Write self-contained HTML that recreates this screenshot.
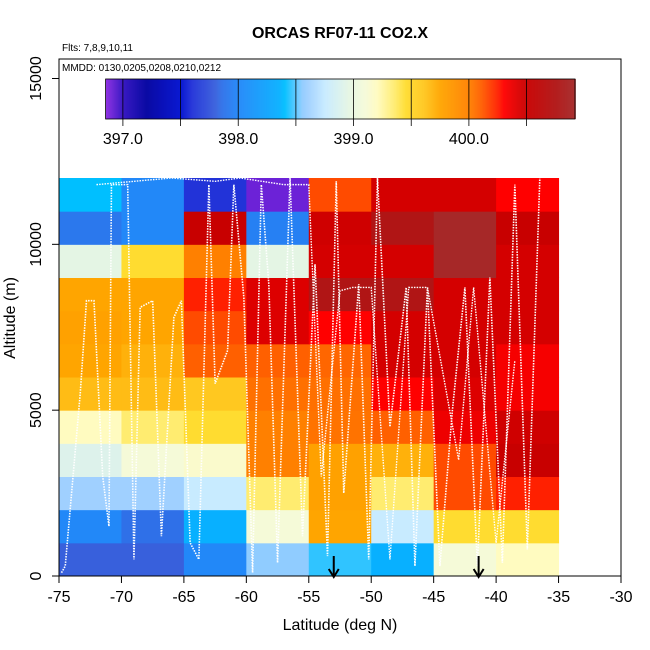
<!DOCTYPE html>
<html><head><meta charset="utf-8"><style>
html,body{margin:0;padding:0;background:#fff}
svg{display:block;font-family:"Liberation Sans",sans-serif}
</style></head><body>
<svg id="c" width="650" height="650" viewBox="0 0 650 650">
<text x="340" y="38" text-anchor="middle" font-size="16" font-weight="bold">ORCAS RF07-11 CO2.X</text>
<text x="62" y="51" font-size="10">Flts: 7,8,9,10,11</text>
<g id="cells"></g>
<g id="tracks"></g>
<rect x="59" y="59" width="562" height="517" fill="none" stroke="#000" stroke-width="1"/>
<text x="62" y="71" font-size="10">MMDD: 0130,0205,0208,0210,0212</text>
<g id="cbar"></g>
<g id="axes"></g>
<text x="340" y="630" text-anchor="middle" font-size="16">Latitude (deg N)</text>
<text x="15" y="318" text-anchor="middle" font-size="16" transform="rotate(-90 15 318)">Altitude (m)</text>
</svg>
<script>
const latEdges=[-75,-70,-65,-60,-55,-50,-45,-40,-35];
const altEdges=[0,1000,2000,3000,4000,5000,6000,7000,8000,9000,10000,11000,12000];
// rows from bottom (0-1000 m) to top (11000-12000 m), columns west->east
const co2=[
[397.8,397.8,398.0,398.55,398.45,398.35,399.1,399.2],
[398.0,397.85,398.35,399.1,399.75,398.75,399.45,399.45],
[398.6,398.6,398.75,399.35,399.78,399.35,400.15,400.25],
[398.9,399.1,399.15,400.0,399.78,399.7,400.15,400.5],
[399.2,399.35,399.45,400.0,400.04,400.1,400.36,400.47],
[399.65,399.65,399.6,400.05,400.05,400.3,400.42,400.33],
[399.75,399.7,400.1,400.1,400.08,400.45,400.45,400.33],
[399.78,399.75,400.15,400.42,400.3,400.45,400.45,400.45],
[399.75,399.75,400.25,400.42,400.75,400.75,400.45,400.45],
[398.95,399.45,400.0,398.95,400.45,400.45,400.9,400.45],
[397.9,398.0,400.5,397.95,400.47,400.75,400.9,400.5],
[398.4,398.0,397.6,396.9,400.15,400.45,400.45,400.3]];
const cbTicks=[397.0,398.0,399.0,400.0];
const xTicks=[-75,-70,-65,-60,-55,-50,-45,-40,-35,-30];
const yTicks=[0,5000,10000,15000];
const arrowLats=[-53.0,-41.4];
const trackLat=[-74.8,-74.5,-73.3,-72.8,-72.2,-71.5,-71.0,-70.8,-69.5,-69.0,-68.5,-67.5,-66.8,-65.8,-65.2,-64.5,-63.8,-63.0,-62.5,-61.5,-61.0,-60.2,-59.5,-58.8,-58.2,-57.5,-56.5,-55.5,-54.5,-53.5,-52.8,-52.2,-51.0,-50.2,-49.5,-48.5,-47.2,-46.5,-45.5,-44.5,-43.5,-42.5,-41.5,-40.5,-39.5,-38.5,-37.5,-36.5];
const trackAlt=[100,300,5500,8300,8300,3000,1500,11800,11800,500,8100,8300,1200,7800,8300,1000,500,11800,5800,6800,11800,8400,100,11800,8800,400,12000,1200,9400,600,11900,2500,8800,500,12000,4500,8700,300,8700,300,5000,8700,300,9000,400,11800,800,12000];
const track2Lat=[-72.0,-66.0,-62.5,-60.5,-57.0,-55.0,-54.0,-52.5,-51.5,-50.0,-48.5,-47.0,-45.5,-43.0,-41.8,-40.0,-38.5];
const track2Alt=[11800,12000,11900,12000,11800,11800,3000,8600,8700,8700,500,8700,8700,3500,8700,1000,6500];
const stops=[[396.85,"#8A2BE2"],[397.0,"#3010C0"],[397.2,"#0000A0"],[397.5,"#0010D0"],[397.6,"#2233D8"],[397.8,"#3860DC"],[397.85,"#2F70E8"],[398.0,"#2288F8"],[398.35,"#08B0FF"],[398.4,"#00BFFF"],[398.45,"#30C4FF"],[398.55,"#90CCFF"],[398.6,"#A0D0FF"],[398.75,"#C8EBFF"],[398.95,"#E4F5E4"],[399.1,"#F5FAD8"],[399.2,"#FFFBC0"],[399.35,"#FFEC70"],[399.45,"#FFDC30"],[399.6,"#FFC820"],[399.75,"#FFA500"],[400.0,"#FF8000"],[400.1,"#FF6000"],[400.25,"#FF2000"],[400.3,"#FF0000"],[400.45,"#D40000"],[400.5,"#C80000"],[400.75,"#B01515"],[400.92,"#A52A2A"]];
function hx(c){return [1,3,5].map(i=>parseInt(c.substr(i,2),16));}
function col(v){
 if(v<=stops[0][0])return stops[0][1];
 for(let i=1;i<stops.length;i++){if(v<=stops[i][0]){const a=stops[i-1],b=stops[i];const t=(v-a[0])/(b[0]-a[0]);const A=hx(a[1]),B=hx(b[1]);return "rgb("+A.map((x,k)=>Math.round(x+(B[k]-x)*t)).join(",")+")";}}
 return stops[stops.length-1][1];}
const X=v=>59+(v+75)*(562/45);
const Y=v=>576-v*(398/12000);
const CB=v=>105.6+(v-396.85)*(469.4/4.07);
const NS="http://www.w3.org/2000/svg";
function mk(t,p,a){const e=document.createElementNS(NS,t);for(const k in a)e.setAttribute(k,a[k]);p.appendChild(e);return e;}
const cells=document.getElementById('cells');
co2.forEach((row,r)=>row.forEach((v,c)=>{
 const e=mk('rect',cells,{x:X(latEdges[c]),y:Y(altEdges[r+1]),width:X(latEdges[c+1])-X(latEdges[c])+0.5,height:Y(altEdges[r])-Y(altEdges[r+1])+0.5,fill:col(v)});
 
 
}));
const tr=document.getElementById('tracks');
const pl=mk('polyline',tr,{points:trackLat.map((l,i)=>X(l)+","+Y(trackAlt[i])).join(" "),fill:"none",stroke:"#fff","stroke-width":1.6,"stroke-dasharray":"1.5 1.2"});


const pl2=mk('polyline',tr,{points:track2Lat.map((l,i)=>X(l)+","+Y(track2Alt[i])).join(" "),fill:"none",stroke:"#fff","stroke-width":1.4,"stroke-dasharray":"1.5 1.2"});


arrowLats.forEach(l=>{
 const g=mk('g',tr,{});
 
 
 mk('line',g,{x1:X(l),y1:556,x2:X(l),y2:576,stroke:"#000","stroke-width":2});
 mk('path',g,{d:`M${X(l)-5},569 L${X(l)},577 L${X(l)+5},569`,fill:"none",stroke:"#000","stroke-width":2});
});
const cb=document.getElementById('cbar');
for(let p=105.6;p<575;p+=1){const v=396.85+(p-105.6)*4.07/469.4;mk('rect',cb,{x:p,y:79,width:1.2,height:40,fill:col(v)});}
mk('rect',cb,{x:105.6,y:79,width:469.4,height:40,fill:"none",stroke:"#000","stroke-width":0.8});
for(let v=397.0;v<=400.6;v+=0.5){mk('line',cb,{x1:CB(v),y1:79,x2:CB(v),y2:126,stroke:"#000","stroke-width":0.8});}
cbTicks.forEach(v=>{const t=mk('text',cb,{x:CB(v),y:144,"text-anchor":"middle","font-size":16});t.textContent=v.toFixed(1);
 
 });
const ax=document.getElementById('axes');
mk('line',ax,{x1:59,y1:576,x2:621,y2:576,stroke:"#000"});
xTicks.forEach(v=>{mk('line',ax,{x1:X(v),y1:576,x2:X(v),y2:583,stroke:"#000"});
 const t=mk('text',ax,{x:X(v),y:602,"text-anchor":"middle","font-size":16});t.textContent=v;
 
 });
yTicks.forEach(v=>{mk('line',ax,{x1:52,y1:Y(v),x2:59,y2:Y(v),stroke:"#000"});
 const t=mk('text',ax,{x:41,y:Y(v),"text-anchor":"middle","font-size":16,transform:`rotate(-90 41 ${Y(v)})`});t.textContent=v;
 
 });
</script>
</body></html>
